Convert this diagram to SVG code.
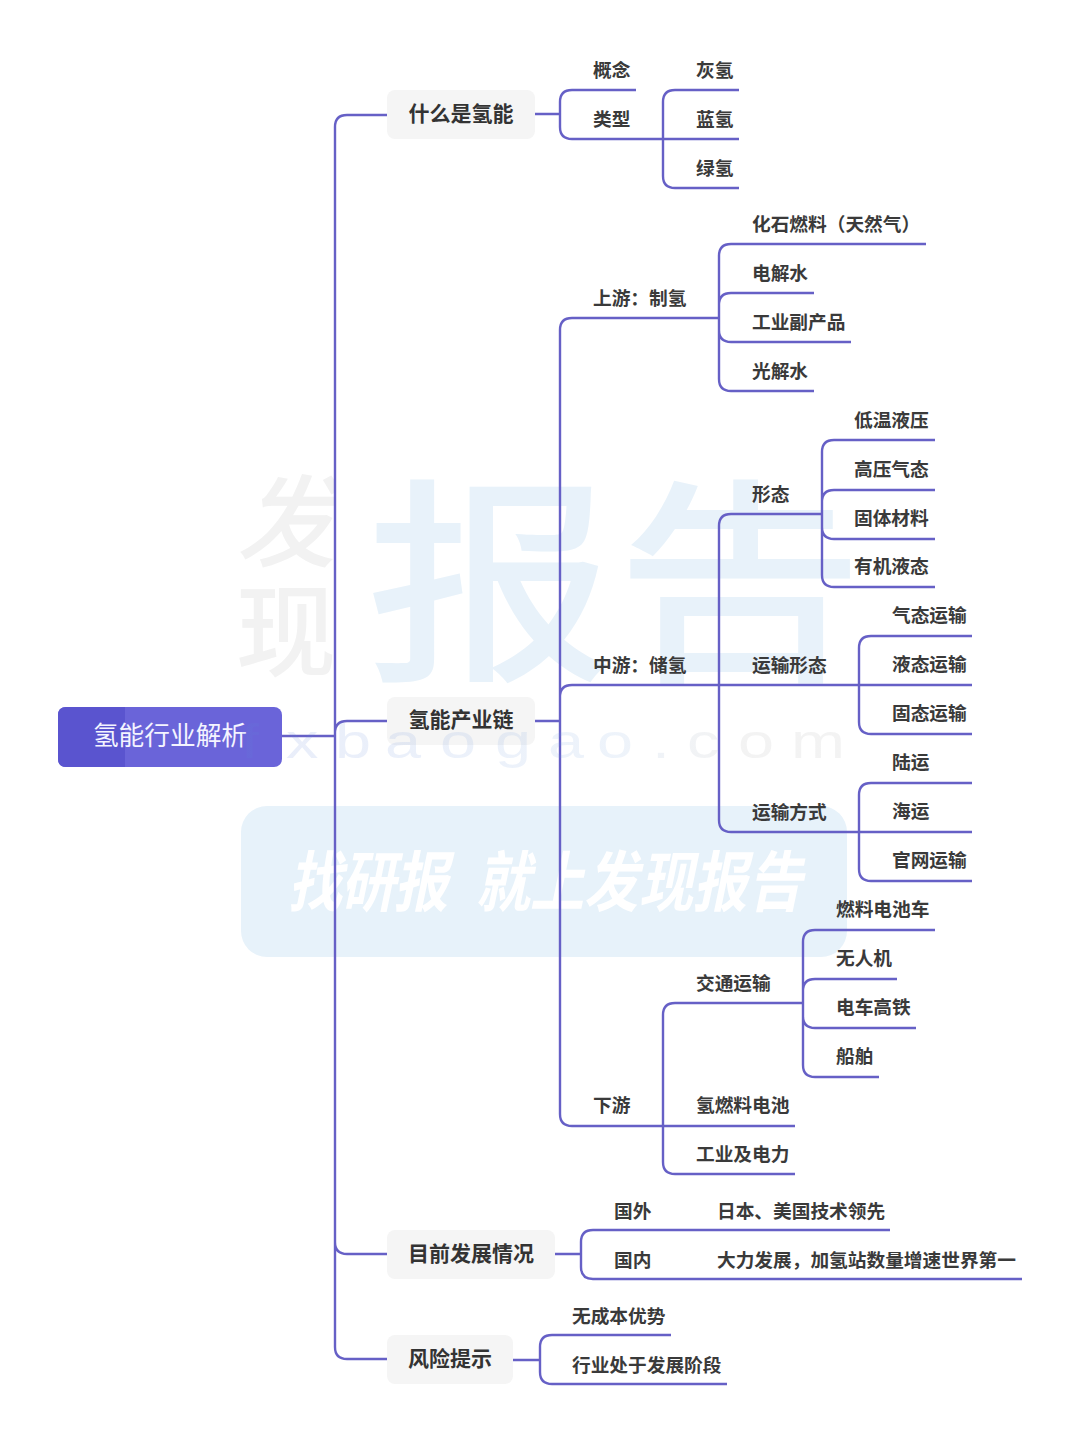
<svg xmlns="http://www.w3.org/2000/svg" width="1080" height="1439" viewBox="0 0 1080 1439">
<style>
text{font-family:"Noto Sans CJK SC","Noto Sans",sans-serif}
.l{fill:none;stroke:#6660c6;stroke-width:2.4}
.t{font-size:18.7px;font-weight:700;fill:#3a3a3a;dominant-baseline:central}
.b{font-size:21px;font-weight:700;fill:#333;text-anchor:middle;dominant-baseline:central}
.box{fill:#f5f5f5}
</style>
<defs>
<clipPath id="c"><rect x="230" y="460" width="105" height="240"/></clipPath>
<linearGradient id="u" gradientUnits="userSpaceOnUse" x1="178" y1="0" x2="640" y2="0">
<stop offset="0" stop-color="#5f7fd8" stop-opacity=".14"/><stop offset=".6" stop-color="#6f9fdc" stop-opacity=".12"/><stop offset=".8" stop-color="#888" stop-opacity=".1"/><stop offset="1" stop-color="#888" stop-opacity=".1"/>
</linearGradient>
</defs>
<rect width="1080" height="1439" fill="#fff"/>
<g id="watermark">
<text x="321 540" y="664" transform="scale(1.14 1)" style="font-size:218px;font-weight:500" fill="#e8f2fa">报告</text>
<g clip-path="url(#c)">
<text x="236" y="559" style="font-size:100px;font-style:italic;font-weight:500" fill="#f2f2f2">发</text>
<text x="236" y="668" style="font-size:100px;font-weight:500" fill="#f2f2f2">现</text>
</g>
<rect x="241" y="806" width="606" height="151" rx="26" fill="#e7f2fa"/>
<text x="351.2 415.9 480.5 543.9 580.5 646.3 712.2 779.3 845.1 912.2" y="906" transform="scale(.82 1)" style="font-size:66px;font-style:italic;font-weight:700" fill="#fff">找研报 就上发现报告</text>
</g>
<g id="connectors">
<path class="l" d="M282 736H335M387 115H347Q335 115 335 127V1347Q335 1359 347 1359H387M335 733Q335 721 347 721H387M335 1242Q335 1254 347 1254H387"/>
<path class="l" d="M535 114H560M636 90H572Q560 90 560 102V127Q560 139 572 139H739M739 90H675Q663 90 663 102V176Q663 188 675 188H739"/>
<path class="l" d="M535 721H560M719 318H572Q560 318 560 330V1114Q560 1126 572 1126H795M560 697Q560 685 572 685H972"/>
<path class="l" d="M719 318V256Q719 244 731 244H926M719 318V379Q719 391 731 391H814M814 293H731Q719 293 719 305M719 330Q719 342 731 342H851"/>
<path class="l" d="M822 514H731Q719 514 719 526V820Q719 832 731 832H972"/>
<path class="l" d="M935 440H834Q822 440 822 452V575Q822 587 834 587H935M935 490H834Q822 490 822 502M822 527Q822 539 834 539H935"/>
<path class="l" d="M972 636H871Q859 636 859 648V722Q859 734 871 734H972"/>
<path class="l" d="M972 783H871Q859 783 859 795V869Q859 881 871 881H972"/>
<path class="l" d="M803 1003H675Q663 1003 663 1015V1162Q663 1174 675 1174H795"/>
<path class="l" d="M935 930H815Q803 930 803 942V1065Q803 1077 815 1077H879M897 979H815Q803 979 803 991M803 1016Q803 1028 815 1028H916"/>
<path class="l" d="M555 1254H581M890 1230H593Q581 1230 581 1242V1267Q581 1279 593 1279H1022"/>
<path class="l" d="M513 1360H540M671 1335H552Q540 1335 540 1347V1372Q540 1384 552 1384H727"/>
</g>
<g id="root">
<rect x="58" y="707" width="224" height="60" rx="8" fill="#6a64d9"/>
<path d="M125 707H66Q58 707 58 715V759Q58 767 66 767H125Z" fill="#5a54cf"/>
<text x="170" y="733" text-anchor="middle" dominant-baseline="central" style="font-size:25.7px" fill="#f4f4ff">氢能行业解析</text>
</g>
<g id="n-what"><rect class="box" x="387" y="90" width="148" height="49" rx="8"/><text class="b" x="461" y="112">什么是氢能</text></g>
<g id="n-chain"><rect class="box" x="387" y="697" width="148" height="48" rx="8"/><text class="b" x="461" y="718">氢能产业链</text></g>
<g id="n-now"><rect class="box" x="387" y="1230" width="168" height="49" rx="8"/><text class="b" x="471" y="1252">目前发展情况</text></g>
<g id="n-risk"><rect class="box" x="387" y="1335" width="126" height="49" rx="8"/><text class="b" x="450" y="1357">风险提示</text></g>
<text id="wm-url" x="178.5 211.9 248.1 285.2 325.9 366.7 405.9 442.2 483 508.9 546.7 585.9" y="758" transform="scale(1.35 1)" style="font-family:'Liberation Sans',sans-serif;font-size:48px" fill="url(#u)">fxbaogao.com</text>
<g id="leaves">
<text class="t" x="593" y="68">概念</text><text class="t" x="593" y="117">类型</text>
<text class="t" x="696" y="68">灰氢</text><text class="t" x="696" y="117">蓝氢</text><text class="t" x="696" y="166">绿氢</text>
<text class="t" x="593" y="296">上游：制氢</text>
<text class="t" x="752" y="222">化石燃料（天然气）</text><text class="t" x="752" y="271">电解水</text><text class="t" x="752" y="320">工业副产品</text><text class="t" x="752" y="369">光解水</text>
<text class="t" x="752" y="492">形态</text>
<text class="t" x="854" y="418">低温液压</text><text class="t" x="854" y="467">高压气态</text><text class="t" x="854" y="516">固体材料</text><text class="t" x="854" y="564">有机液态</text>
<text class="t" x="593" y="663">中游：储氢</text><text class="t" x="752" y="663">运输形态</text>
<text class="t" x="892" y="613">气态运输</text><text class="t" x="892" y="662">液态运输</text><text class="t" x="892" y="711">固态运输</text>
<text class="t" x="752" y="810">运输方式</text>
<text class="t" x="892" y="760">陆运</text><text class="t" x="892" y="809">海运</text><text class="t" x="892" y="858">官网运输</text>
<text class="t" x="836" y="907">燃料电池车</text><text class="t" x="836" y="956">无人机</text><text class="t" x="836" y="1005">电车高铁</text><text class="t" x="836" y="1054">船舶</text>
<text class="t" x="696" y="981">交通运输</text><text class="t" x="593" y="1103">下游</text><text class="t" x="696" y="1103">氢燃料电池</text><text class="t" x="696" y="1152">工业及电力</text>
<text class="t" x="614" y="1209">国外</text><text class="t" x="717" y="1209">日本、美国技术领先</text>
<text class="t" x="614" y="1258">国内</text><text class="t" x="717" y="1258">大力发展，加氢站数量增速世界第一</text>
<text class="t" x="572" y="1314">无成本优势</text><text class="t" x="572" y="1363">行业处于发展阶段</text>
</g>
</svg>
